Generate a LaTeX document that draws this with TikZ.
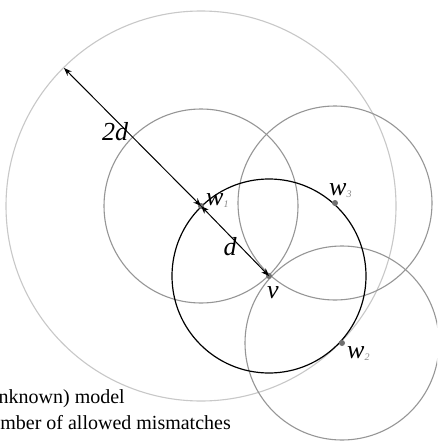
\documentclass[tikz,border=0pt]{standalone}
\usepackage{fontspec}
\setmainfont{Liberation Serif}
\usetikzlibrary{arrows.meta}
\definecolor{outergray}{HTML}{C8C8C8}
\definecolor{circgray}{HTML}{969696}
\definecolor{dotgray}{HTML}{707070}
\definecolor{subgray}{HTML}{8A8A8A}
\newcommand{\wlab}[1]{\itshape w\raisebox{-2pt}{\color{subgray}\fontsize{10}{10}\selectfont #1}}
\tikzset{
  lab/.style={inner sep=0pt, font=\fontsize{26}{26}\selectfont\itshape},
  txt/.style={inner sep=0pt, font=\fontsize{20}{20}\selectfont},
  smallcirc/.style={draw=circgray, line width=1.1pt},
  bigcirc/.style={draw=outergray, line width=1.1pt},
  maincirc/.style={draw=black, line width=1.2pt},
  dimarrow/.style={{Stealth[length=8pt,width=6pt]}-{Stealth[length=8pt,width=6pt]}, line width=1pt},
  ptdot/.style={fill=dotgray}
}
\begin{document}
\begin{tikzpicture}[x=1pt,y=-1pt]
\useasboundingbox (0,0) rectangle (437,441);
\clip (0,0) rectangle (437,441);
\fill[white] (0,0) rectangle (437,441);
\coordinate (v) at (269,276);
\coordinate (w1) at (201,206);
\coordinate (w3) at (335,203);
\coordinate (w2) at (342,343);
\coordinate (outer) at (64,68);
% circles
\draw[bigcirc] (w1) circle[radius=195pt];
\draw[smallcirc] (w1) circle[radius=97pt];
\draw[smallcirc] (w3) circle[radius=97pt];
\draw[smallcirc] (w2) circle[radius=97pt];
\draw[maincirc] (v) circle[radius=97pt];
% dots
\fill[ptdot] (w1) circle[radius=3pt];
\fill[ptdot] (w3) circle[radius=3pt];
\fill[ptdot] (w2) circle[radius=3pt];
\fill[ptdot] (v) circle[radius=3pt];
% arrows
\draw[dimarrow] (w1) -- (outer);
\draw[dimarrow] (w1) -- (v);
% labels
\node[lab, anchor=base] (l2d) at (115,140) {2d};
\node[lab, anchor=base] (ld) at (230,255) {d};
\node[lab, anchor=base west] (lv) at (267,298) {v};
\node[lab, anchor=base west] (lw1) at (206,205) {\wlab{1}};
\node[lab, anchor=base west] (lw3) at (329,195) {\wlab{3}};
\node[lab, anchor=base west] (lw2) at (347,358) {\wlab{2}};
% bottom text (cut off at left edge, as in the reference)
\node[txt, anchor=base east] (t1) at (125,403) {(unknown) model};
\node[txt, anchor=base east] (t2) at (231,429) {number of allowed mismatches};
\end{tikzpicture}
\end{document}
